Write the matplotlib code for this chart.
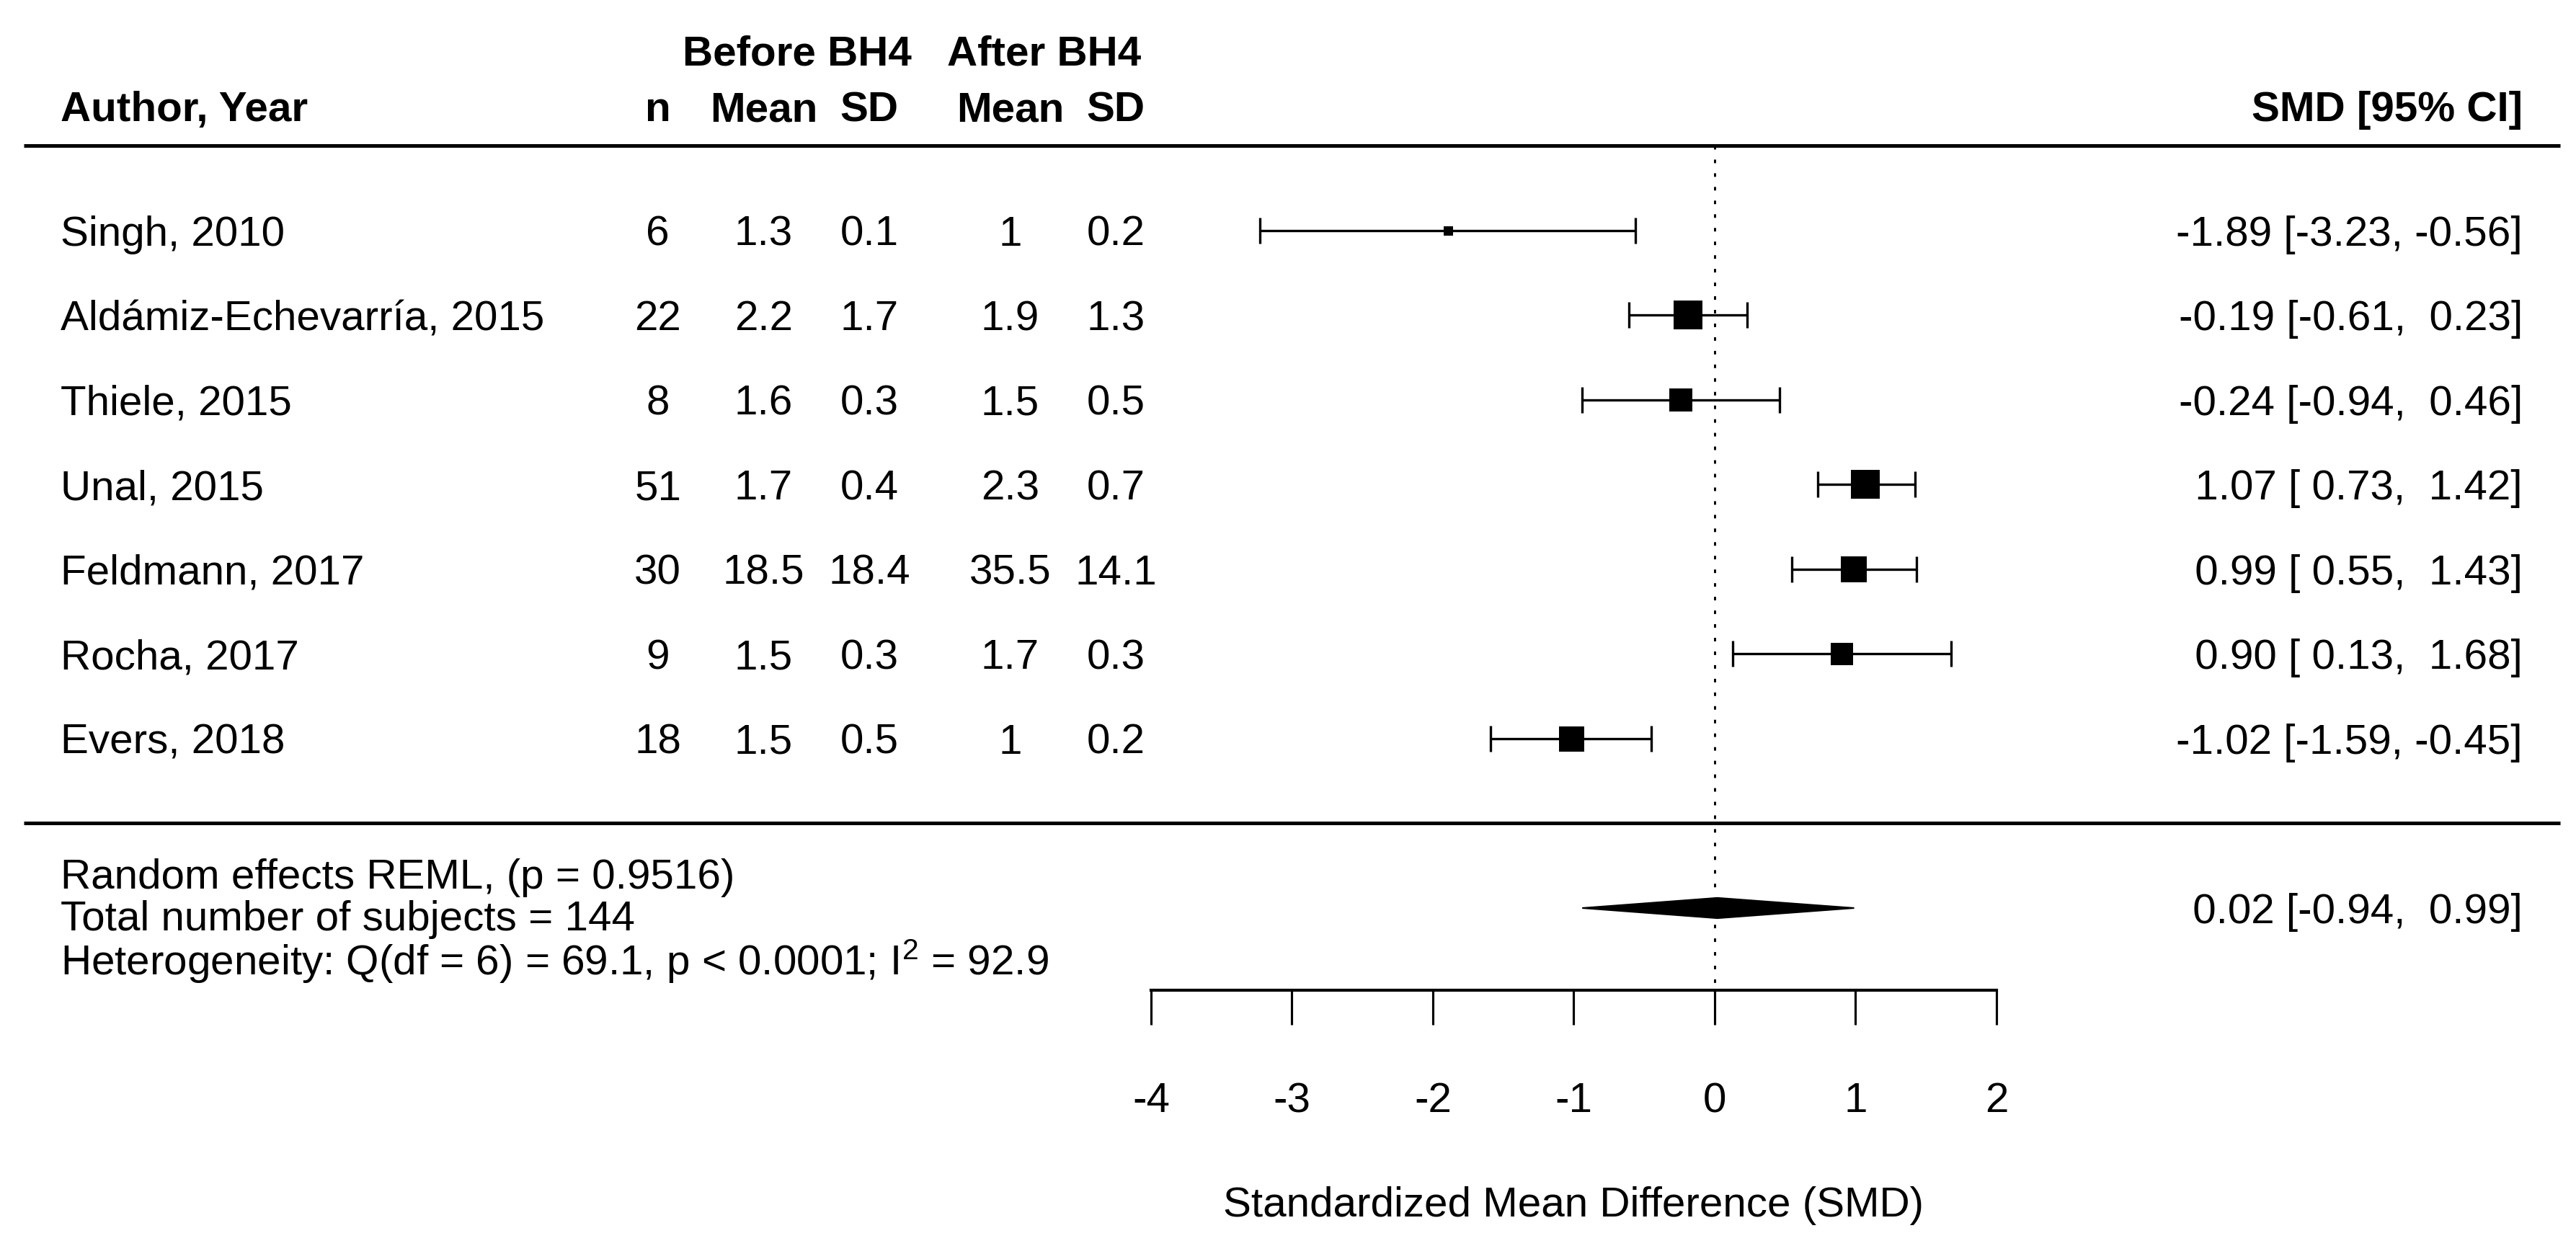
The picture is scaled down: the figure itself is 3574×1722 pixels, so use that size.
import matplotlib
matplotlib.use("Agg")
import matplotlib.pyplot as plt
from matplotlib.patches import Polygon

# ---------------- data ----------------
studies = ["Singh, 2010", "Aldámiz-Echevarría, 2015", "Thiele, 2015", "Unal, 2015",
           "Feldmann, 2017", "Rocha, 2017", "Evers, 2018"]
n_subj = [6, 22, 8, 51, 30, 9, 18]
before_mean = [1.3, 2.2, 1.6, 1.7, 18.5, 1.5, 1.5]
before_sd = [0.1, 1.7, 0.3, 0.4, 18.4, 0.3, 0.5]
after_mean = [1, 1.9, 1.5, 2.3, 35.5, 1.7, 1]
after_sd = [0.2, 1.3, 0.5, 0.7, 14.1, 0.3, 0.2]
smd = [-1.89, -0.19, -0.24, 1.07, 0.99, 0.90, -1.02]
ci_low = [-3.23, -0.61, -0.94, 0.73, 0.55, 0.13, -1.59]
ci_high = [-0.56, 0.23, 0.46, 1.42, 1.43, 1.68, -0.45]
pooled_smd = 0.02
pooled_low = -0.94
pooled_high = 0.99
pooled_p = 0.9516
total_subjects = 144
q_df = 6
q_value = 69.1
i2_value = 92.9
x_ticks = [-4, -3, -2, -1, 0, 1, 2]

# ---------------- style ----------------
box_px = [13, 40, 32, 40, 37, 31, 35]   # square side lengths (pixels) from study weights
DPI = 300
FS = 14
plt.rcParams['font.family'] = ['Liberation Sans', 'DejaVu Sans']
plt.rcParams['mathtext.fontset'] = 'custom'
plt.rcParams['mathtext.rm'] = 'Liberation Sans'
plt.rcParams['mathtext.it'] = 'Liberation Sans:italic'
plt.rcParams['mathtext.bf'] = 'Liberation Sans:bold'

fig = plt.figure(figsize=(3574 / DPI, 1722 / DPI), dpi=DPI)
ax = fig.add_axes([0, 0, 1, 1])
ax.set_xlim(-12.169, 6.113)
ax.set_ylim(-4.932, 9.723)

k = len(studies)
rows = [k - i for i in range(k)]
px2pt = 72.0 / DPI

# column positions (data units)
x_lab = -11.74
x_n, x_bm, x_bsd, x_am, x_asd = -7.5, -6.75, -6.0, -5.0, -4.25
x_right = 5.734

# headers
hdr2 = 8.47
hdr1 = 9.13
ax.text(x_lab, hdr2, "Author, Year", fontsize=FS, fontweight='bold', ha='left', va='center_baseline')
for x, t in zip([x_n, x_bm, x_bsd, x_am, x_asd], ["n", "Mean", "SD", "Mean", "SD"]):
    ax.text(x, hdr2, t, fontsize=FS, fontweight='bold', ha='center', va='center_baseline')
ax.text(-6.512, hdr1, "Before BH4", fontsize=FS, fontweight='bold', ha='center', va='center_baseline')
ax.text(-4.757, hdr1, "After BH4", fontsize=FS, fontweight='bold', ha='center', va='center_baseline')
ax.text(x_right, hdr2, "SMD [95% CI]", fontsize=FS, fontweight='bold', ha='right', va='center_baseline')

# separator lines
ax.plot([-12.0, 6.0], [8, 8], color='black', lw=1.2, solid_capstyle='butt')
ax.plot([-12.0, 6.0], [0, 0], color='black', lw=1.2, solid_capstyle='butt')

# reference line
ax.plot([0, 0], [8, -1.97], color='black', lw=0.7, linestyle=(0, (1.7, 4.8)))

def fmt(v):
    return f"{v:g}"

for i, y in enumerate(rows):
    ax.text(x_lab, y, studies[i], fontsize=FS, ha='left', va='center_baseline')
    ax.text(x_n, y, str(n_subj[i]), fontsize=FS, ha='center', va='center_baseline')
    ax.text(x_bm, y, fmt(before_mean[i]), fontsize=FS, ha='center', va='center_baseline')
    ax.text(x_bsd, y, fmt(before_sd[i]), fontsize=FS, ha='center', va='center_baseline')
    ax.text(x_am, y, fmt(after_mean[i]), fontsize=FS, ha='center', va='center_baseline')
    ax.text(x_asd, y, fmt(after_sd[i]), fontsize=FS, ha='center', va='center_baseline')
    lab = f"{smd[i]:5.2f} [{ci_low[i]:5.2f}, {ci_high[i]:5.2f}]"
    ax.text(x_right, y, lab, fontsize=FS, ha='right', va='center_baseline')
    ax.errorbar([smd[i]], [y], xerr=[[smd[i] - ci_low[i]], [ci_high[i] - smd[i]]],
                fmt='none', ecolor='black', elinewidth=0.8, capsize=4.3, capthick=0.8)
    ax.plot([smd[i]], [y], marker='s', color='black', markersize=box_px[i] * px2pt,
            markeredgewidth=0, linestyle='none')

# pooled diamond
yp = -1
h = 0.12
ax.add_patch(Polygon([[pooled_low, yp], [pooled_smd, yp + h], [pooled_high, yp], [pooled_smd, yp - h]],
                     closed=True, facecolor='black', edgecolor='black', lw=0.5))
ax.text(x_right, yp, f"{pooled_smd:5.2f} [{pooled_low:5.2f}, {pooled_high:5.2f}]",
        fontsize=FS, ha='right', va='center_baseline')
ax.text(x_lab, -0.59, f"Random effects REML, (p = {pooled_p})", fontsize=FS, ha='left', va='center_baseline')
ax.text(x_lab, -1.085, f"Total number of subjects = {total_subjects}", fontsize=FS, ha='left', va='center_baseline')
ax.text(x_lab, -1.57, f"Heterogeneity: Q(df = {q_df}) = {q_value}, p < 0.0001; I$^{{2}}$ = {i2_value}",
        fontsize=FS, ha='left', va='center_baseline')

# x axis
for s in ['top', 'right', 'left']:
    ax.spines[s].set_visible(False)
ax.spines['bottom'].set_position(('data', -1.97))
ax.spines['bottom'].set_bounds(x_ticks[0], x_ticks[-1])
ax.spines['bottom'].set_linewidth(1.0)
ax.set_xticks(x_ticks)
ax.set_xticklabels([str(t) for t in x_ticks])
ax.tick_params(axis='x', direction='out', length=11.5, width=0.75, pad=19, labelsize=FS)
ax.set_yticks([])
ax.text(-1, -4.46, "Standardized Mean Difference (SMD)", fontsize=FS, ha='center', va='center_baseline')

fig.savefig("out.png", dpi=DPI, facecolor='white')
